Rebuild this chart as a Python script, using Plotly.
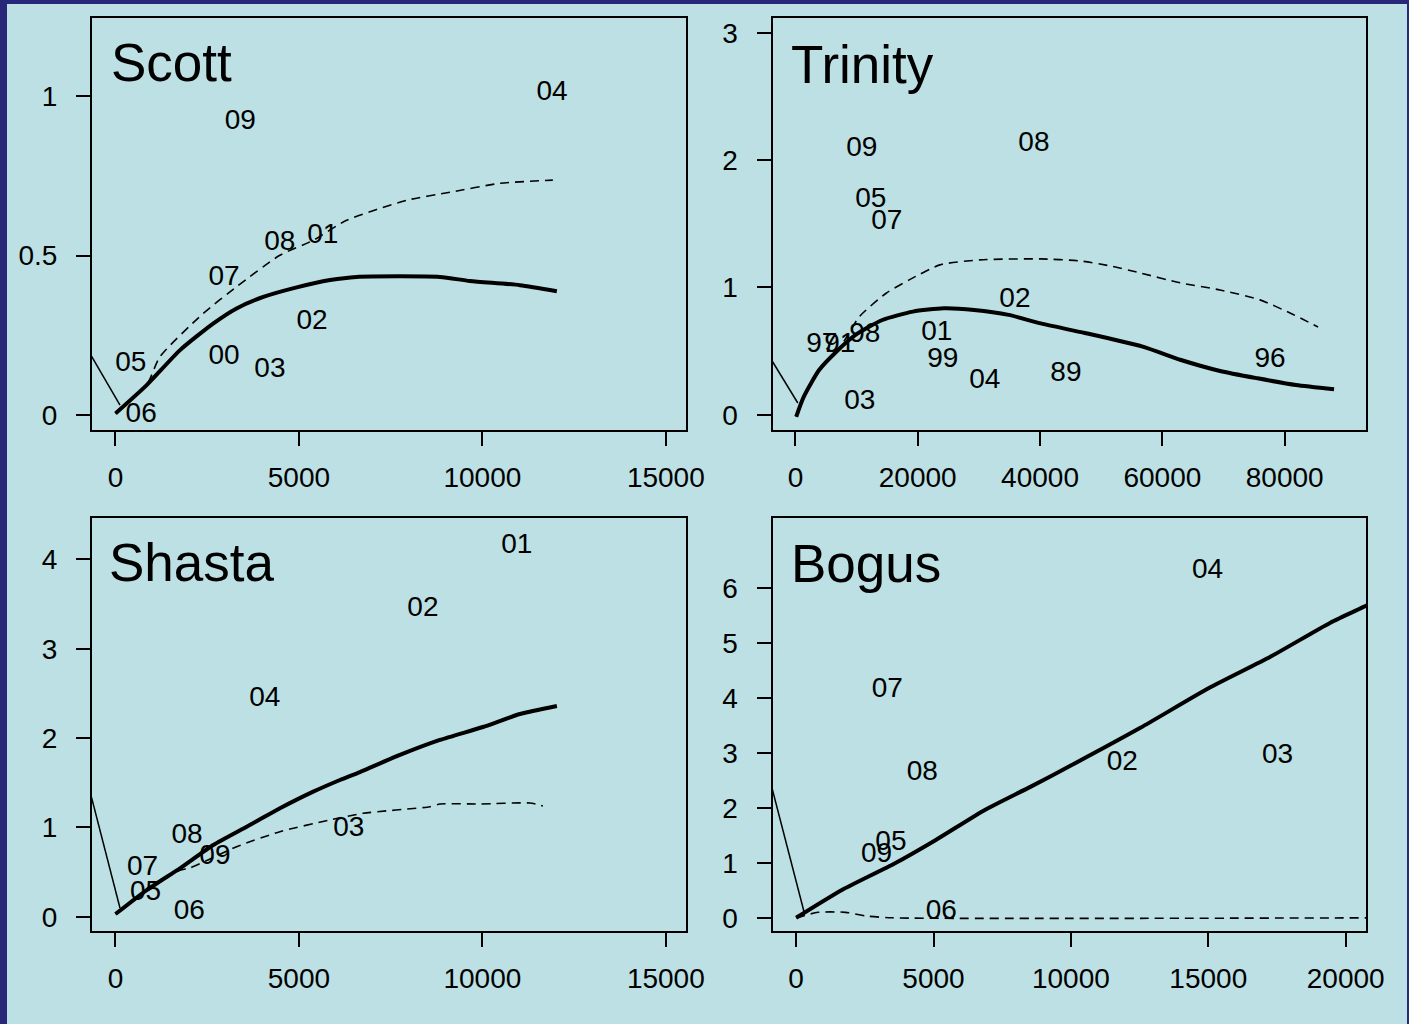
import plotly.graph_objects as go

# ---------------- data ----------------
# Scott
scott_years = ["09", "04", "08", "01", "07", "02", "00", "03", "05", "06"]
scott_year_x = [3400, 11900, 4480, 5650, 2960, 5360, 2960, 4210, 420, 700]
scott_year_y = [0.92, 1.01, 0.54, 0.56, 0.43, 0.29, 0.18, 0.14, 0.16, 0.0]
scott_fit_x = [0, 850, 1760, 2670, 3300, 4030, 4940, 5850, 6570, 8840, 9660, 11020, 12030]
scott_fit_y = [0.004, 0.093, 0.203, 0.287, 0.334, 0.370, 0.400, 0.423, 0.433, 0.433, 0.420, 0.407, 0.388]
scott_alt_x = [0, 850, 1210, 2390, 3300, 4480, 5390, 6300, 7940, 9120, 10480, 11920]
scott_alt_y = [0.004, 0.093, 0.182, 0.318, 0.402, 0.501, 0.548, 0.611, 0.674, 0.699, 0.727, 0.737]
scott_ref_x = [-800, 123]
scott_ref_y = [0.213, 0.030]
scott_xticks = [0, 5000, 10000, 15000]
scott_yticks = [0, 0.5, 1]

# Trinity
trinity_years = ["09", "08", "05", "07", "02", "01", "99", "04", "89", "96", "03", "97", "91", "98"]
trinity_year_x = [10860, 39000, 12330, 14950, 35890, 23130, 24110, 30980, 44230, 77610, 10530, 4315, 7260, 11350]
trinity_year_y = [2.09, 2.13, 1.69, 1.51, 0.90, 0.64, 0.43, 0.265, 0.32, 0.43, 0.10, 0.55, 0.55, 0.63]
trinity_fit_x = [127, 1371, 3874, 6688, 9829, 14214, 19203, 24226, 29232, 34876, 39882, 47343,
                 56782, 63049, 69429, 75565, 81831, 88079]
trinity_fit_y = [-0.016, 0.142, 0.351, 0.495, 0.627, 0.744, 0.810, 0.836, 0.823, 0.784, 0.719, 0.642,
                 0.535, 0.430, 0.344, 0.286, 0.233, 0.200]
trinity_alt_x = [127, 1371, 3874, 6688, 8078, 10450, 14835, 18598, 23620, 30164, 39980, 46524, 51432,
                 56340, 62884, 69429, 75973, 80881, 85462]
trinity_alt_y = [-0.016, 0.142, 0.351, 0.495, 0.587, 0.770, 0.954, 1.059, 1.177, 1.216, 1.224, 1.208, 1.169,
                 1.114, 1.036, 0.980, 0.902, 0.799, 0.689]
trinity_ref_x = [-4500, 389]
trinity_ref_y = [0.477, 0.092]
trinity_xticks = [0, 20000, 40000, 60000, 80000]
trinity_yticks = [0, 1, 2, 3]

# Shasta
shasta_years = ["01", "02", "04", "03", "08", "09", "07", "05", "06"]
shasta_year_x = [10940, 8380, 4070, 6360, 1950, 2710, 740, 820, 2010]
shasta_year_y = [4.15, 3.45, 2.44, 0.98, 0.90, 0.67, 0.54, 0.26, 0.056]
shasta_fit_x = [0, 851, 1758, 2665, 3576, 4483, 5390, 6118, 6663, 7753, 8843, 10015, 11023, 12031]
shasta_fit_y = [0.03, 0.299, 0.542, 0.803, 1.008, 1.214, 1.40, 1.531, 1.62, 1.811, 1.979, 2.124, 2.27, 2.36]
shasta_alt_x = [0, 851, 1758, 2031, 3303, 4483, 5846, 6753, 8571, 8843, 9933, 11296, 11650]
shasta_alt_y = [0.03, 0.299, 0.52, 0.545, 0.784, 0.952, 1.083, 1.158, 1.232, 1.262, 1.262, 1.273, 1.24]
shasta_ref_x = [-800, 123]
shasta_ref_y = [1.57, 0.097]
shasta_xticks = [0, 5000, 10000, 15000]
shasta_yticks = [0, 1, 2, 3, 4]

# Bogus
bogus_years = ["04", "07", "08", "02", "03", "05", "09", "06"]
bogus_year_x = [14970, 3320, 4590, 11870, 17520, 3450, 2930, 5280]
bogus_year_y = [6.32, 4.14, 2.64, 2.82, 2.95, 1.36, 1.15, 0.11]
bogus_fit_x = [0, 1666, 3599, 5084, 6868, 8524, 9980, 12528, 15040, 17260, 19444, 20754, 21200]
bogus_fit_y = [0.0, 0.507, 0.994, 1.418, 1.965, 2.385, 2.768, 3.46, 4.189, 4.754, 5.374, 5.685, 5.80]
bogus_alt_x = [0, 800, 1800, 2600, 3500, 21200]
bogus_alt_y = [0, 0.1, 0.1, 0.03, 0, 0]
bogus_ref_x = [-1000, 287]
bogus_ref_y = [2.60, 0.111]
bogus_xticks = [0, 5000, 10000, 15000, 20000]
bogus_yticks = [0, 1, 2, 3, 4, 5, 6]

# ---------------- figure ----------------
W, H = 1409, 1024
FONT = "Liberation Sans, Arial, Helvetica, sans-serif"
BG = "#bce0e3"
DARK = "#28287a"
FS = 28


def fx(p):
    return p / W


def fy(p):
    return 1 - p / H


panels = [
    dict(name="Scott", years=scott_years, yx=scott_year_x, yy=scott_year_y,
         fx=scott_fit_x, fy=scott_fit_y, ax=scott_alt_x, ay=scott_alt_y,
         rx=scott_ref_x, ry=scott_ref_y, xt=scott_xticks, yt=scott_yticks,
         xr=[-640, 15550], yr=[-0.048, 1.248], dom_x=(92, 686), dom_y=(17.5, 430),
         title_pos=(109, 62)),
    dict(name="Trinity", years=trinity_years, yx=trinity_year_x, yy=trinity_year_y,
         fx=trinity_fit_x, fy=trinity_fit_y, ax=trinity_alt_x, ay=trinity_alt_y,
         rx=trinity_ref_x, ry=trinity_ref_y, xt=trinity_xticks, yt=trinity_yticks,
         xr=[-3750, 93300], yr=[-0.12, 3.12], dom_x=(772.5, 1366), dom_y=(17.5, 430),
         title_pos=(789, 64)),
    dict(name="Shasta", years=shasta_years, yx=shasta_year_x, yy=shasta_year_y,
         fx=shasta_fit_x, fy=shasta_fit_y, ax=shasta_alt_x, ay=shasta_alt_y,
         rx=shasta_ref_x, ry=shasta_ref_y, xt=shasta_xticks, yt=shasta_yticks,
         xr=[-640, 15550], yr=[-0.16, 4.47], dom_x=(92, 686), dom_y=(517.5, 931),
         title_pos=(107, 562)),
    dict(name="Bogus", years=bogus_years, yx=bogus_year_x, yy=bogus_year_y,
         fx=bogus_fit_x, fy=bogus_fit_y, ax=bogus_alt_x, ay=bogus_alt_y,
         rx=bogus_ref_x, ry=bogus_ref_y, xt=bogus_xticks, yt=bogus_yticks,
         xr=[-860, 20740], yr=[-0.24, 7.29], dom_x=(772.5, 1366), dom_y=(517.5, 931),
         title_pos=(789, 563)),
]

fig = go.Figure()
annotations = []


def fmt(v):
    if float(v).is_integer():
        return str(int(v))
    return str(v)


for i, p in enumerate(panels):
    n = "" if i == 0 else str(i + 1)
    xa, ya = "x" + n, "y" + n
    fig.add_trace(go.Scatter(x=p["rx"], y=p["ry"], mode="lines", xaxis=xa, yaxis=ya,
                             line=dict(color="black", width=1.5), showlegend=False, hoverinfo="skip"))
    fig.add_trace(go.Scatter(x=p["ax"], y=p["ay"], mode="lines", xaxis=xa, yaxis=ya,
                             line=dict(color="black", width=1.6, dash="9px,6px", shape="spline",
                                       smoothing=0.6), showlegend=False))
    fig.add_trace(go.Scatter(x=p["fx"], y=p["fy"], mode="lines", xaxis=xa, yaxis=ya,
                             line=dict(color="black", width=4, shape="spline", smoothing=0.6),
                             showlegend=False))
    fig.add_trace(go.Scatter(x=p["yx"], y=p["yy"], mode="text", text=p["years"], xaxis=xa, yaxis=ya,
                             textposition="middle center", cliponaxis=False,
                             textfont=dict(size=FS, color="black", family=FONT), showlegend=False))
    common = dict(showline=True, linecolor="black", linewidth=2, mirror=True, ticks="outside",
                  ticklen=14, tickwidth=2, tickcolor="black", showgrid=False, zeroline=False,
                  automargin=False, tickfont=dict(size=FS, color="black", family=FONT))
    fig.update_layout(**{
        ("xaxis" + n): dict(common, range=p["xr"], tickvals=p["xt"], ticktext=[fmt(v) for v in p["xt"]],
                             domain=[fx(p["dom_x"][0]), fx(p["dom_x"][1])], anchor=ya,
                             ticklabelstandoff=7),
        ("yaxis" + n): dict(common, range=p["yr"], tickvals=p["yt"], ticktext=[fmt(v) for v in p["yt"]],
                             domain=[fy(p["dom_y"][1]), fy(p["dom_y"][0])], anchor=xa,
                             ticklabelstandoff=13),
    })
    annotations.append(dict(text=p["name"], xref="paper", yref="paper",
                            x=fx(p["title_pos"][0]), y=fy(p["title_pos"][1]),
                            xanchor="left", yanchor="middle", showarrow=False,
                            font=dict(size=53, color="black", family=FONT)))

fig.update_layout(
    width=W, height=H, margin=dict(l=0, r=0, t=0, b=0, autoexpand=False),
    paper_bgcolor=DARK, plot_bgcolor=BG,
    annotations=annotations,
    shapes=[dict(type="rect", xref="paper", yref="paper", x0=fx(7), x1=fx(1407), y0=0, y1=fy(4),
                 fillcolor=BG, line=dict(width=0), layer="below")],
)

fig.write_html("out.html")
